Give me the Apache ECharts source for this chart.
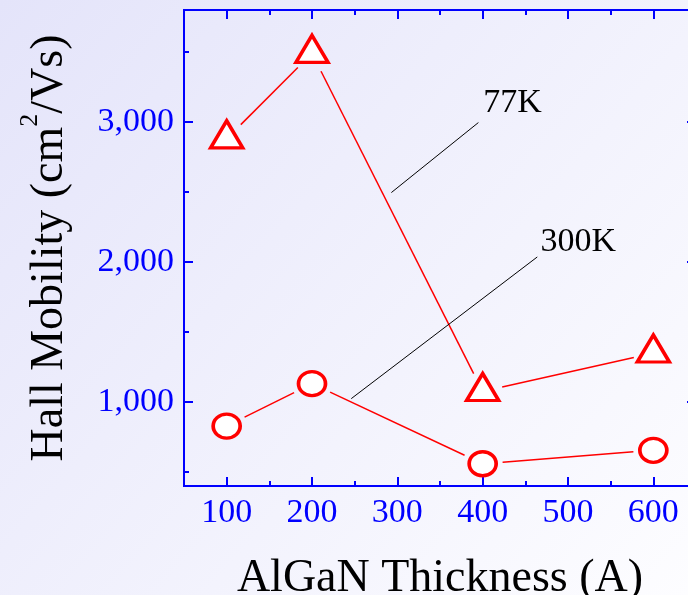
<!DOCTYPE html>
<html>
<head>
<meta charset="utf-8">
<script src="https://cdn.jsdelivr.net/npm/echarts@6/dist/echarts.min.js"></script>
<style>
  html, body { margin: 0; padding: 0; }
  #chart { width: 688px; height: 595px; }
</style>
</head>
<body>
<div id="chart"></div>
<script>
// AlGaN barrier thickness (Å) and measured Hall mobility (cm²/Vs)
const thickness = [100, 200, 400, 600];
const mobility77K = [2880, 3490, 1075, 1350];
const mobility300K = [828, 1131, 559, 655];

// Axis ticks
const xMajorTicks = [100, 200, 300, 400, 500, 600];
const xMinorTicks = [150, 250, 350, 450, 550];
const yMajorTicks = [1000, 2000, 3000];
const yMinorTicks = [500, 1500, 2500, 3500];

// Callout labels and their leader lines (data coordinates)
const calloutText = ['77K', '300K'];
const calloutAnchor = [[400.6, 3062], [467.8, 2069]];
const leaderFrom = [[293, 2496], [246, 1024]];
const leaderTo = [[395, 2996], [464, 2036]];

const SERIF = "'Liberation Serif', 'Times New Roman', serif";
const BLUE = '#0000ff';
const RED = '#ff0000';
const LINE_GAP = 20; // px left open between a connecting line and the marker centre

const fmt = v => v.toLocaleString('en-US');

function xAxisDef(position, ticks, len, labels) {
  return {
    type: 'value', position: position, min: 50, max: 650,
    axisLine: { show: true, lineStyle: { color: BLUE, width: 2 } },
    axisTick: { show: true, inside: true, length: len, customValues: ticks,
                lineStyle: { color: BLUE, width: 2 } },
    axisLabel: labels ? { show: true, customValues: ticks, color: BLUE, fontFamily: SERIF,
                          fontSize: 34, margin: 10 } : { show: false },
    splitLine: { show: false }
  };
}
function yAxisDef(position, ticks, len, labels) {
  return {
    type: 'value', position: position, min: 400, max: 3800,
    axisLine: { show: true, lineStyle: { color: BLUE, width: 2 } },
    axisTick: { show: true, inside: true, length: len, customValues: ticks,
                lineStyle: { color: BLUE, width: 2 } },
    axisLabel: labels ? { show: true, customValues: ticks, color: BLUE, fontFamily: SERIF,
                          fontSize: 34, margin: 10, formatter: fmt } : { show: false },
    splitLine: { show: false }
  };
}

const xAxes = [
  xAxisDef('bottom', xMajorTicks, 9, true),
  xAxisDef('bottom', xMinorTicks, 5, false),
  xAxisDef('top', xMajorTicks, 9, false),
  xAxisDef('top', xMinorTicks, 5, false)
];
xAxes[0].name = 'AlGaN Thickness (A)';
xAxes[0].nameLocation = 'middle';
xAxes[0].nameGap = 70;
xAxes[0].nameTextStyle = { color: '#000', fontFamily: SERIF, fontSize: 46 };

const yAxes = [
  yAxisDef('left', yMajorTicks, 9, true),
  yAxisDef('left', yMinorTicks, 5, false),
  yAxisDef('right', yMajorTicks, 9, false),
  yAxisDef('right', yMinorTicks, 5, false)
];
yAxes[0].name = 'Hall Mobility (cm{sup|2}/Vs)';
yAxes[0].nameLocation = 'middle';
yAxes[0].nameRotate = 90;
yAxes[0].nameGap = 101;
yAxes[0].nameTextStyle = {
  color: '#000', fontFamily: SERIF, fontSize: 46, lineHeight: 66,
  rich: { sup: { color: '#000', fontFamily: SERIF, fontSize: 26, verticalAlign: 'top', lineHeight: 26 } }
};

// Connecting segments, shortened at both ends so they stop short of the markers
function connector(name, values) {
  const pts = thickness.map((x, i) => [x, values[i]]);
  return {
    name: name + ' line', type: 'custom', xAxisIndex: 0, yAxisIndex: 0,
    data: pts.slice(0, -1).map((p, i) => [p[0], p[1], pts[i + 1][0], pts[i + 1][1]]),
    silent: true, z: 2, clip: false,
    renderItem: (params, api) => {
      const a = api.coord([api.value(0), api.value(1)]);
      const b = api.coord([api.value(2), api.value(3)]);
      const dx = b[0] - a[0], dy = b[1] - a[1];
      const len = Math.hypot(dx, dy);
      const ux = dx / len, uy = dy / len;
      return {
        type: 'line',
        shape: { x1: a[0] + ux * LINE_GAP, y1: a[1] + uy * LINE_GAP,
                 x2: b[0] - ux * LINE_GAP, y2: b[1] - uy * LINE_GAP },
        style: { stroke: RED, lineWidth: 1.5 }
      };
    }
  };
}

function markerSeries(name, values, symbol, size, offset) {
  return {
    name: name, type: 'scatter', xAxisIndex: 0, yAxisIndex: 0,
    data: thickness.map((x, i) => [x, values[i]]),
    symbol: symbol, symbolSize: size, symbolOffset: offset, clip: false,
    itemStyle: { color: '#fff', borderColor: RED, borderWidth: 3.5, borderJoin: 'miter', opacity: 1 },
    emphasis: { disabled: true },
    z: 3
  };
}

const option = {
  animation: false,
  backgroundColor: {
    type: 'linear', x: 0, y: 0, x2: 1, y2: 1,
    colorStops: [{ offset: 0, color: '#e4e4fa' }, { offset: 1, color: '#fdfdff' }]
  },
  grid: { left: 184, top: 10, width: 512, height: 476, outerBoundsMode: 'none', containLabel: false },
  xAxis: xAxes,
  yAxis: yAxes,
  series: [
    connector('77K', mobility77K),
    connector('300K', mobility300K),
    markerSeries('77K', mobility77K, 'triangle', [32, 27], [0, -4.5]),
    markerSeries('300K', mobility300K, 'circle', [27, 24], [0, 0]),
    {
      name: 'callouts', type: 'scatter', xAxisIndex: 0, yAxisIndex: 0,
      data: calloutAnchor.map((p, i) => ({ value: p, name: calloutText[i] })),
      symbolSize: 0, silent: true, z: 4,
      label: {
        show: true, position: [0, 0], align: 'left', verticalAlign: 'bottom',
        offset: [0, 7], formatter: p => p.name, opacity: 1, textBorderWidth: 0,
        color: '#000000', fontFamily: SERIF, fontSize: 34, lineHeight: 34
      },
      markLine: {
        silent: true, symbol: 'none', animation: false,
        lineStyle: { color: '#000', width: 1, type: 'solid', opacity: 1 },
        label: { show: false },
        data: leaderFrom.map((p, i) => [{ coord: p }, { coord: leaderTo[i] }])
      }
    }
  ]
};

const chart = echarts.init(document.getElementById('chart'), null, { renderer: 'canvas' });
chart.setOption(option);
</script>
</body>
</html>
